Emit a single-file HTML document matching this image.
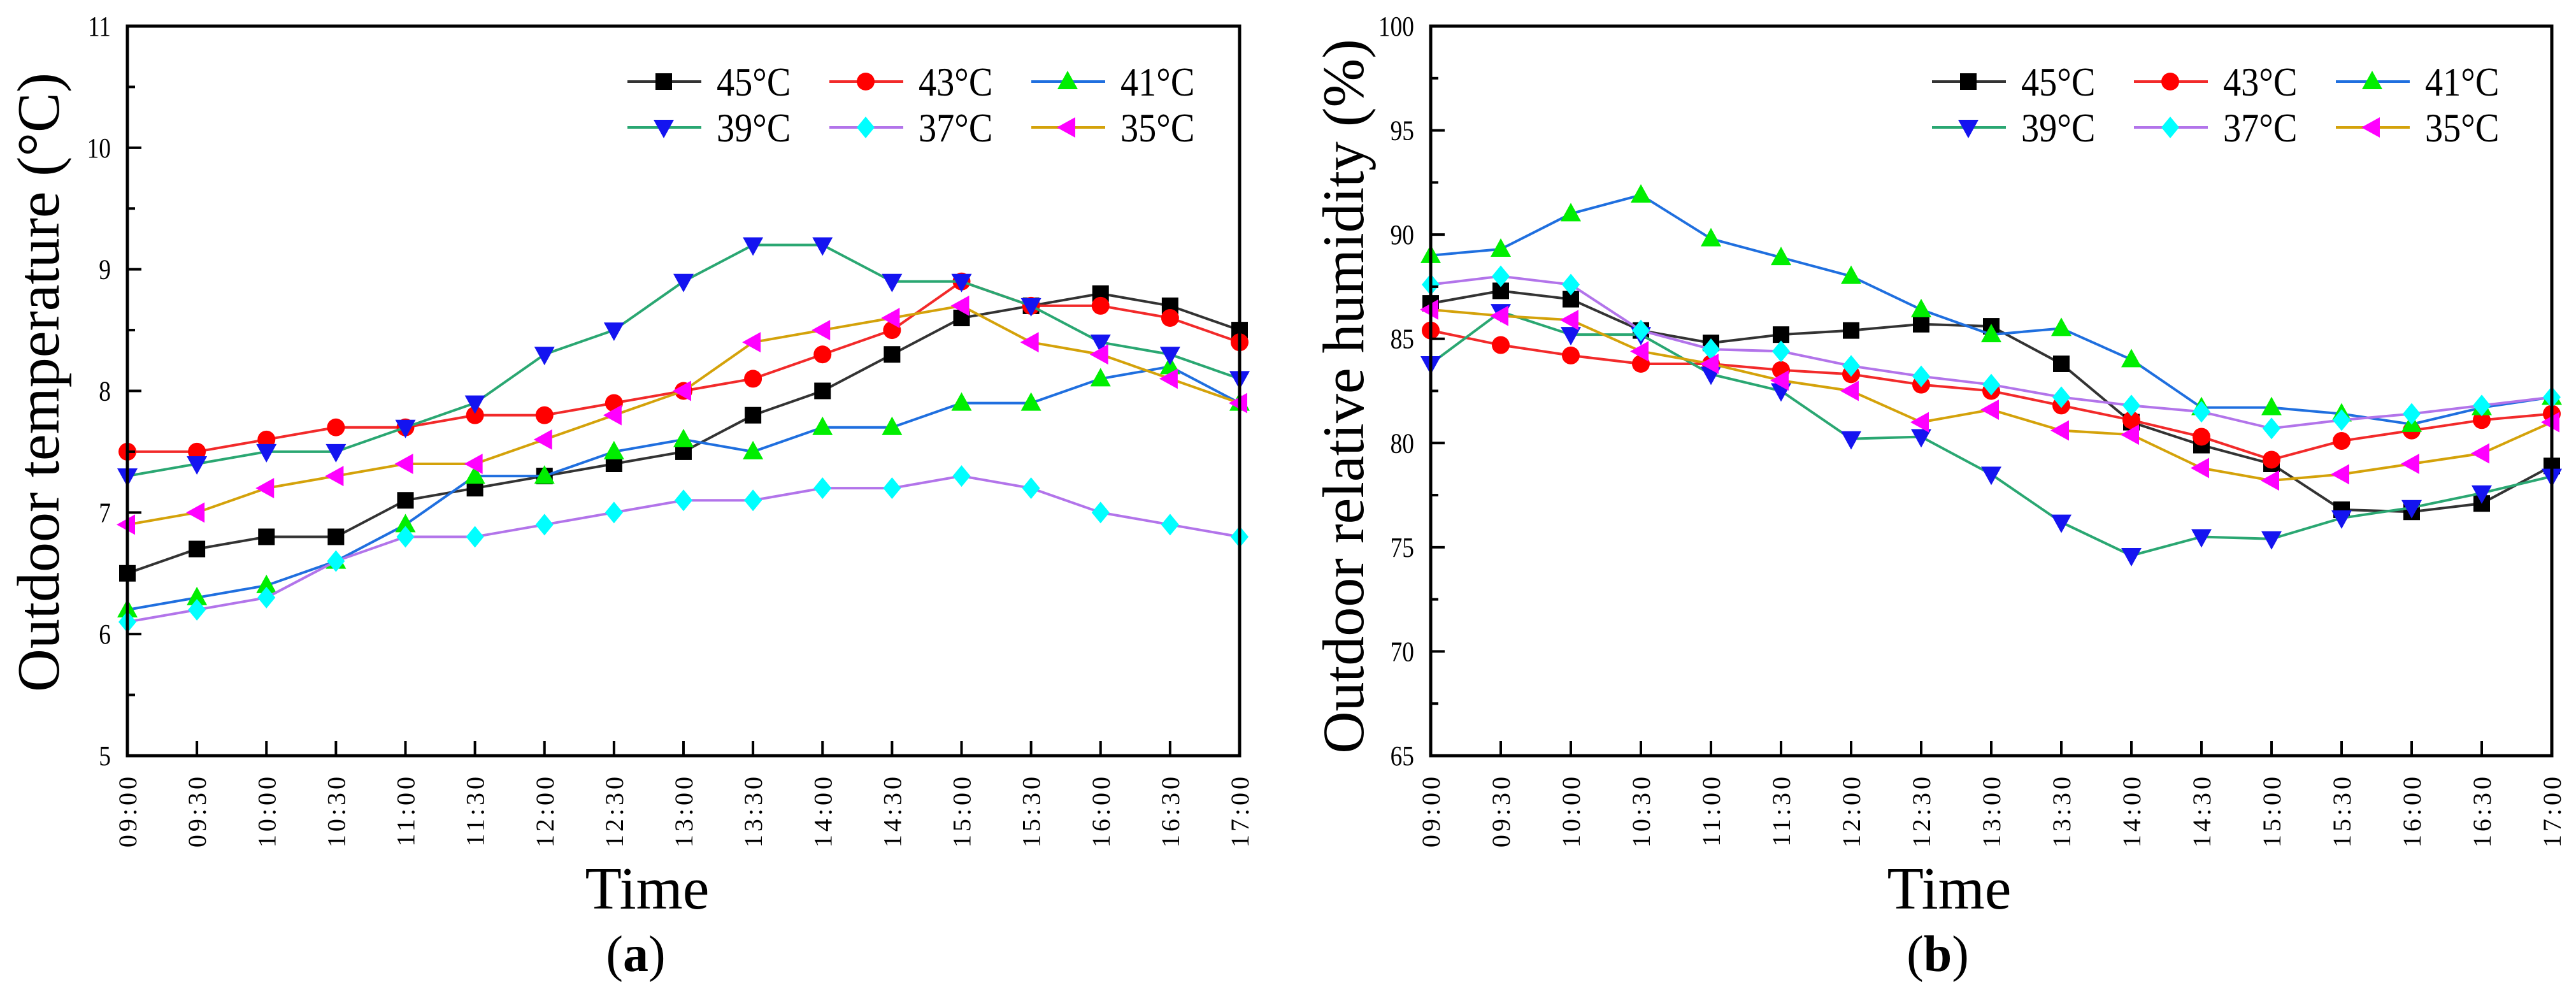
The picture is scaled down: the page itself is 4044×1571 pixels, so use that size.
<!DOCTYPE html>
<html><head><meta charset="utf-8"><style>
html,body{margin:0;padding:0;background:#fff;}
svg{display:block;}
text{font-family:"Liberation Serif",serif;fill:#000;}
</style></head><body>
<svg id="fig" width="4044" height="1571" viewBox="0 0 4044 1571" xmlns="http://www.w3.org/2000/svg"></svg>
<script>
// ---- shared categories ----
const timeLabels = ["09:00","09:30","10:00","10:30","11:00","11:30","12:00","12:30","13:00","13:30","14:00","14:30","15:00","15:30","16:00","16:30","17:00"];
const seriesNames = ["45°C","43°C","41°C","39°C","37°C","35°C"];
// ---- chart (a): outdoor temperature ----
const tempTicks = [5,6,7,8,9,10,11];
const temp45 = [6.5,6.7,6.8,6.8,7.1,7.2,7.3,7.4,7.5,7.8,8.0,8.3,8.6,8.7,8.8,8.7,8.5];
const temp43 = [7.5,7.5,7.6,7.7,7.7,7.8,7.8,7.9,8.0,8.1,8.3,8.5,8.9,8.7,8.7,8.6,8.4];
const temp41 = [6.2,6.3,6.4,6.6,6.9,7.3,7.3,7.5,7.6,7.5,7.7,7.7,7.9,7.9,8.1,8.2,7.9];
const temp39 = [7.3,7.4,7.5,7.5,7.7,7.9,8.3,8.5,8.9,9.2,9.2,8.9,8.9,8.7,8.4,8.3,8.1];
const temp37 = [6.1,6.2,6.3,6.6,6.8,6.8,6.9,7.0,7.1,7.1,7.2,7.2,7.3,7.2,7.0,6.9,6.8];
const temp35 = [6.9,7.0,7.2,7.3,7.4,7.4,7.6,7.8,8.0,8.4,8.5,8.6,8.7,8.4,8.3,8.1,7.9];
// ---- chart (b): outdoor relative humidity ----
const humTicks = [65,70,75,80,85,90,95,100];
const hum45 = [86.7,87.3,86.9,85.4,84.8,85.2,85.4,85.7,85.6,83.8,81.0,79.9,79.0,76.8,76.7,77.1,78.9];
const hum43 = [85.4,84.7,84.2,83.8,83.8,83.5,83.3,82.8,82.5,81.8,81.1,80.3,79.2,80.1,80.6,81.1,81.4];
const hum41 = [89.0,89.3,91.0,91.9,89.8,88.9,88.0,86.4,85.2,85.5,84.0,81.7,81.7,81.4,80.9,81.7,82.2];
const hum39 = [83.8,86.3,85.2,85.2,83.3,82.5,80.2,80.3,78.5,76.2,74.6,75.5,75.4,76.4,76.9,77.6,78.4];
const hum37 = [87.6,88.0,87.6,85.4,84.5,84.4,83.7,83.2,82.8,82.2,81.8,81.5,80.7,81.1,81.4,81.8,82.2];
const hum35 = [86.4,86.1,85.9,84.4,83.8,83.0,82.5,81.0,81.6,80.6,80.4,78.8,78.2,78.5,79.0,79.5,81.0];

const NS="http://www.w3.org/2000/svg";
const svg=document.getElementById('fig');
function mk(tag,attrs,parent){const e=document.createElementNS(NS,tag);for(const k in attrs)e.setAttribute(k,attrs[k]);(parent||svg).appendChild(e);return e;}

const styles=[
 {line:"#333333",fill:"#000000",shape:"square"},
 {line:"#f22a2a",fill:"#ff0000",shape:"circle"},
 {line:"#1f6fdf",fill:"#00ee00",shape:"up"},
 {line:"#2aa772",fill:"#1414f0",shape:"down"},
 {line:"#b274ea",fill:"#00ffff",shape:"diamond"},
 {line:"#d4a20a",fill:"#ff00ff",shape:"left"}
];
function marker(g,shape,cx,cy,fill){
  let e;
  if(shape==="square")e=mk('rect',{x:cx-13,y:cy-13,width:26,height:26,fill:fill},g);
  else if(shape==="circle")e=mk('circle',{cx:cx,cy:cy,r:14,fill:fill},g);
  else if(shape==="up")e=mk('polygon',{points:`${cx},${cy-17} ${cx+16},${cy+12} ${cx-16},${cy+12}`,fill:fill},g);
  else if(shape==="down")e=mk('polygon',{points:`${cx},${cy+17} ${cx+16},${cy-12} ${cx-16},${cy-12}`,fill:fill},g);
  else if(shape==="diamond")e=mk('polygon',{points:`${cx},${cy-17} ${cx+14},${cy} ${cx},${cy+17} ${cx-14},${cy}`,fill:fill},g);
  else e=mk('polygon',{points:`${cx-17},${cy} ${cx+12},${cy-16} ${cx+12},${cy+16}`,fill:fill},g);
  return e;
}

function chart(cfg){
  const {left,right,top,bottom,yMin,yMax,yTicks,series,prefix}=cfg;
  const g=mk('g',{});
  
  
  const xS=i=>left+(right-left)*i/(timeLabels.length-1);
  const yS=v=>bottom-(bottom-top)*(v-yMin)/(yMax-yMin);
  series.forEach((vals,si)=>{
    const st=styles[si];
    const sg=mk('g',{},g);
    
    
    const pts=vals.map((v,i)=>xS(i)+','+yS(v)).join(' ');
    const pl=mk('polyline',{points:pts,fill:'none',stroke:st.line,'stroke-width':4},sg);
    
    
    vals.forEach((v,i)=>{
      const m=marker(sg,st.shape,xS(i),yS(v),st.fill);
      
      
    });
  });
  const fr=mk('rect',{x:left,y:top,width:right-left,height:bottom-top,fill:'none',stroke:'#000','stroke-width':5},g);
  
  
  const step=yTicks[1]-yTicks[0];
  yTicks.forEach((t,k)=>{
    const y=yS(t);
    mk('line',{x1:left,y1:y,x2:left+22,y2:y,stroke:'#000','stroke-width':4},g);
    if(k<yTicks.length-1){const ym=yS(t+step/2);mk('line',{x1:left,y1:ym,x2:left+12,y2:ym,stroke:'#000','stroke-width':4},g);}
    const tx=mk('text',{x:0,y:0,'font-size':44,'text-anchor':'end','font-family':'Liberation Serif, serif',transform:`translate(${left-26},${y+15}) scale(0.85,1)`},g);
    tx.textContent=t;
    
    
  });
  timeLabels.forEach((lab,i)=>{
    const x=xS(i);
    mk('line',{x1:x,y1:bottom,x2:x,y2:bottom-23,stroke:'#000','stroke-width':4},g);
    const tx=mk('text',{x:0,y:0,'font-size':40,'text-anchor':'end','letter-spacing':'5','font-family':'Liberation Serif, serif',transform:`translate(${x+14},${bottom+28}) rotate(-90)`},g);
    tx.textContent=lab;
    
    
  });
  const lg=mk('g',{},g);
  
  
  seriesNames.forEach((n,si)=>{
    const col=si%3,row=Math.floor(si/3);
    const lx=cfg.legX+col*317,ly=[128,200][row];
    const eg=mk('g',{},lg);
    
    
    mk('line',{x1:lx,y1:ly,x2:lx+116,y2:ly,stroke:styles[si].line,'stroke-width':4},eg);
    marker(eg,styles[si].shape,lx+57,ly,styles[si].fill);
    const t=mk('text',{x:0,y:0,'font-size':64,'font-family':'Liberation Serif, serif',transform:`translate(${lx+140},${ly+22}) scale(0.88,1)`},eg);
    t.textContent=n;
  });
  const yt=mk('text',{x:0,y:0,'font-size':cfg.ytSize,'text-anchor':'middle',transform:`translate(${cfg.ytX},${cfg.ytY}) rotate(-90)`},g);
  yt.textContent=cfg.yTitle;
  
  
  const xt=mk('text',{x:cfg.xtX,y:1426,'font-size':94,'text-anchor':'middle'},g);
  xt.textContent='Time';
  
  
  const pl=mk('text',{x:cfg.plX,y:1524,'font-size':80,'text-anchor':'middle'},g);
  pl.innerHTML='(<tspan font-weight="bold">'+cfg.letter+'</tspan>)';
  
  
}

chart({prefix:'temp',left:200,right:1946,top:41,bottom:1186,yMin:5,yMax:11,yTicks:tempTicks,
  series:[temp45,temp43,temp41,temp39,temp37,temp35],legX:985,
  yTitle:'Outdoor temperature (°C)',ytX:92,ytY:600,ytSize:94,xtX:1016,plX:998,letter:'a'});
chart({prefix:'hum',left:2246,right:4006,top:41,bottom:1186,yMin:65,yMax:100,yTicks:humTicks,
  series:[hum45,hum43,hum41,hum39,hum37,hum35],legX:3033,
  yTitle:'Outdoor relative humidity (%)',ytX:2140,ytY:622,ytSize:92,xtX:3060,plX:3042,letter:'b'});
</script>
</body></html>
